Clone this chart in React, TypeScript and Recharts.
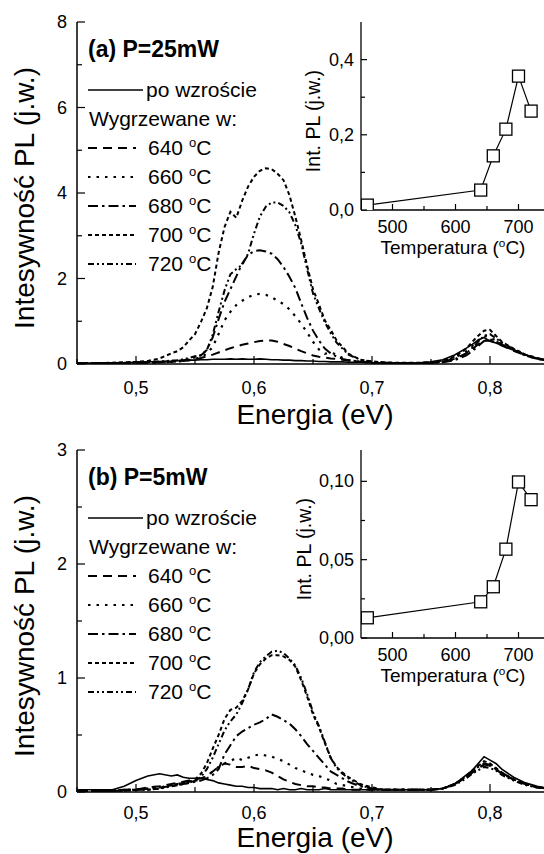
import React from 'react';
import { LineChart, Line, XAxis, YAxis } from 'recharts';

const FONT = '"Liberation Sans", Arial, Helvetica, sans-serif';

// photon energy grid (eV)
const energies = [
  0.45, 0.46, 0.47, 0.48, 0.49, 0.5, 0.51, 0.52, 0.53,
  0.535, 0.54, 0.545, 0.55, 0.555, 0.56, 0.565, 0.57, 0.575, 0.58, 0.585, 0.59, 0.595, 0.6, 0.605,
  0.61, 0.615, 0.62, 0.625, 0.63, 0.635, 0.64, 0.645, 0.65, 0.655, 0.66, 0.665, 0.67, 0.675, 0.68,
  0.69, 0.7, 0.71, 0.72, 0.73, 0.74, 0.75, 0.76, 0.77, 0.78,
  0.785, 0.79, 0.795, 0.8, 0.805,
  0.81, 0.82, 0.83, 0.84, 0.85,
];

// (a) P = 25 mW
const aAsGrown = [
  0.02, 0.02, 0.02, 0.03, 0.03, 0.04, 0.05, 0.06, 0.07,
  0.08, 0.08, 0.09, 0.09, 0.1, 0.1, 0.11, 0.11, 0.11, 0.12, 0.11, 0.12, 0.11, 0.11, 0.12,
  0.11, 0.1, 0.1, 0.09, 0.09, 0.08, 0.08, 0.07, 0.07, 0.06, 0.06, 0.05, 0.05, 0.05, 0.04,
  0.04, 0.03, 0.03, 0.02, 0.02, 0.03, 0.05, 0.1, 0.21, 0.37,
  0.46, 0.56, 0.62, 0.53, 0.49,
  0.44, 0.32, 0.21, 0.13, 0.08,
];
const a640 = [
  0.01, 0.01, 0.02, 0.02, 0.02, 0.03, 0.03, 0.04, 0.05,
  0.06, 0.07, 0.09, 0.11, 0.14, 0.18, 0.22, 0.27, 0.32, 0.37, 0.41, 0.45, 0.48, 0.51, 0.54,
  0.55, 0.55, 0.52, 0.47, 0.42, 0.36, 0.3, 0.25, 0.2, 0.17, 0.15, 0.13, 0.12, 0.1, 0.08,
  0.05, 0.03, 0.02, 0.02, 0.02, 0.02, 0.03, 0.06, 0.12, 0.25,
  0.35, 0.46, 0.54, 0.55, 0.5,
  0.43, 0.31, 0.2, 0.12, 0.07,
];
const a660 = [
  0.01, 0.01, 0.02, 0.02, 0.02, 0.03, 0.03, 0.04, 0.05,
  0.06, 0.07, 0.09, 0.12, 0.16, 0.24, 0.4, 0.7, 1.02, 1.22, 1.38, 1.48, 1.56, 1.62, 1.64,
  1.62, 1.56, 1.48, 1.4, 1.28, 1.12, 0.94, 0.74, 0.52, 0.34, 0.24, 0.27, 0.22, 0.14, 0.09,
  0.05, 0.03, 0.02, 0.02, 0.02, 0.02, 0.03, 0.06, 0.14, 0.3,
  0.42, 0.55, 0.66, 0.62, 0.55,
  0.46, 0.32, 0.2, 0.12, 0.07,
];
const a680 = [
  0.01, 0.01, 0.02, 0.02, 0.02, 0.03, 0.03, 0.04, 0.06,
  0.07, 0.09, 0.11, 0.15, 0.2, 0.33, 0.62, 1.05, 1.45, 1.75, 2.05, 2.35, 2.55, 2.64, 2.66,
  2.63, 2.58, 2.45, 2.27, 2.04, 1.78, 1.42, 1.08, 0.78, 0.55, 0.36, 0.25, 0.17, 0.12, 0.09,
  0.06, 0.04, 0.03, 0.02, 0.02, 0.02, 0.02, 0.04, 0.09, 0.2,
  0.3, 0.42, 0.54, 0.58, 0.53,
  0.46, 0.33, 0.21, 0.13, 0.08,
];
const a700 = [
  0.02, 0.02, 0.02, 0.03, 0.04, 0.05, 0.07, 0.13, 0.25,
  0.3, 0.39, 0.55, 0.7, 0.98, 1.3, 1.8, 2.6, 3.2, 3.56, 3.42, 3.82, 4.15, 4.38, 4.52,
  4.58, 4.56, 4.45, 4.3, 3.95, 3.45, 2.9, 2.3, 1.75, 1.4, 1.02, 0.8, 0.55, 0.4, 0.24,
  0.1, 0.06, 0.04, 0.03, 0.03, 0.03, 0.04, 0.08, 0.17, 0.36,
  0.52, 0.66, 0.78, 0.8, 0.66,
  0.52, 0.36, 0.22, 0.14, 0.08,
];
const a720 = [
  0.02, 0.02, 0.02, 0.02, 0.03, 0.04, 0.05, 0.06, 0.08,
  0.09, 0.11, 0.14, 0.18, 0.21, 0.32, 0.68, 1.22, 1.72, 2.1, 2.22, 2.32, 2.58, 3.05, 3.45,
  3.68, 3.78, 3.78, 3.7, 3.55, 3.25, 2.82, 2.22, 1.65, 1.3, 0.98, 0.72, 0.5, 0.36, 0.22,
  0.1, 0.05, 0.03, 0.02, 0.02, 0.02, 0.03, 0.05, 0.11, 0.25,
  0.38, 0.52, 0.66, 0.7, 0.6,
  0.5, 0.35, 0.22, 0.13, 0.08,
];

// (b) P = 5 mW
const bAsGrown = [
  0.02, 0.02, 0.02, 0.02, 0.05, 0.1, 0.14, 0.16, 0.14,
  0.15, 0.13, 0.12, 0.12, 0.12, 0.11, 0.1, 0.08, 0.07, 0.06, 0.05, 0.05, 0.04, 0.04, 0.03,
  0.03, 0.03, 0.02, 0.03, 0.02, 0.02, 0.03, 0.02, 0.02, 0.02, 0.03, 0.02, 0.02, 0.02, 0.02,
  0.02, 0.02, 0.02, 0.02, 0.02, 0.02, 0.02, 0.03, 0.07, 0.15,
  0.19, 0.25, 0.31, 0.28, 0.25,
  0.2, 0.13, 0.08, 0.05, 0.03,
];
const b640 = [
  0.01, 0.01, 0.01, 0.01, 0.02, 0.02, 0.04, 0.05, 0.07,
  0.08, 0.09, 0.1, 0.11, 0.12, 0.14, 0.18, 0.22, 0.25, 0.24, 0.22, 0.22, 0.23, 0.21, 0.2,
  0.19, 0.17, 0.14, 0.11, 0.09, 0.07, 0.06, 0.05, 0.05, 0.04, 0.04, 0.03, 0.03, 0.03, 0.02,
  0.02, 0.02, 0.02, 0.02, 0.02, 0.02, 0.02, 0.03, 0.07, 0.13,
  0.17, 0.21, 0.24, 0.23, 0.2,
  0.16, 0.11, 0.07, 0.04, 0.03,
];
const b660 = [
  0.01, 0.01, 0.01, 0.01, 0.02, 0.02, 0.03, 0.04, 0.06,
  0.07, 0.08, 0.09, 0.1, 0.11, 0.14, 0.18, 0.22, 0.25, 0.27, 0.3, 0.28, 0.3, 0.32, 0.33,
  0.32, 0.31, 0.29, 0.27, 0.24, 0.21, 0.19, 0.17, 0.15, 0.14, 0.12, 0.1, 0.07, 0.06, 0.05,
  0.03, 0.02, 0.02, 0.02, 0.02, 0.02, 0.02, 0.03, 0.07, 0.13,
  0.17, 0.21, 0.24, 0.23, 0.2,
  0.16, 0.11, 0.07, 0.04, 0.03,
];
const b680 = [
  0.01, 0.01, 0.01, 0.01, 0.02, 0.02, 0.03, 0.04, 0.05,
  0.06, 0.07, 0.08, 0.09, 0.1, 0.12, 0.15, 0.2, 0.33, 0.41, 0.49, 0.53, 0.56, 0.59, 0.61,
  0.64, 0.68, 0.66, 0.63, 0.6, 0.55, 0.49, 0.42, 0.36, 0.3, 0.24, 0.18, 0.15, 0.12, 0.09,
  0.05, 0.03, 0.02, 0.02, 0.02, 0.02, 0.02, 0.03, 0.07, 0.14,
  0.18, 0.22, 0.25, 0.24, 0.21,
  0.17, 0.11, 0.07, 0.04, 0.03,
];
const b700 = [
  0.01, 0.01, 0.01, 0.01, 0.01, 0.02, 0.02, 0.03, 0.06,
  0.07, 0.08, 0.09, 0.11, 0.16, 0.25, 0.38, 0.5, 0.64, 0.72, 0.74, 0.8, 0.9, 1.04, 1.12,
  1.17, 1.2, 1.2, 1.19, 1.16, 1.1, 0.98, 0.84, 0.68, 0.57, 0.43, 0.3, 0.22, 0.17, 0.13,
  0.07, 0.04, 0.02, 0.02, 0.02, 0.02, 0.02, 0.03, 0.07, 0.14,
  0.19, 0.23, 0.27, 0.25, 0.21,
  0.17, 0.11, 0.07, 0.04, 0.03,
];
const b720 = [
  0.01, 0.01, 0.01, 0.01, 0.01, 0.02, 0.02, 0.03, 0.05,
  0.06, 0.07, 0.08, 0.1, 0.13, 0.2, 0.3, 0.42, 0.54, 0.62, 0.68, 0.78, 0.9, 1.05, 1.14,
  1.19, 1.23, 1.24, 1.22, 1.17, 1.11, 1.0, 0.86, 0.7, 0.58, 0.44, 0.3, 0.21, 0.16, 0.12,
  0.06, 0.03, 0.02, 0.02, 0.02, 0.02, 0.02, 0.03, 0.06, 0.12,
  0.16, 0.19, 0.22, 0.21, 0.19,
  0.15, 0.1, 0.06, 0.04, 0.03,
];

// integrated PL vs annealing temperature (insets)
const temps = [460, 640, 660, 680, 700, 720];
const intA = [0.013, 0.053, 0.144, 0.215, 0.356, 0.263];
const intB = [0.0129, 0.0231, 0.0327, 0.0567, 0.0996, 0.0883];

const energyTicks = [0.45, 0.5, 0.55, 0.6, 0.65, 0.7, 0.75, 0.8, 0.85];
const energyMajors = [0.5, 0.6, 0.7, 0.8];
const tempTicks = [500, 550, 600, 650, 700];
const tempMajors = [500, 600, 700];

const annealLabels = ['640', '660', '680', '700', '720'];

const series = [
  { key: 's0', dash: undefined, width: 1.6 },
  { key: 's1', dash: '9 6', width: 2 },
  { key: 's2', dash: '2.5 6', width: 2.2 },
  { key: 's3', dash: '10 4 2.5 4', width: 2 },
  { key: 's4', dash: '4 3', width: 2 },
  { key: 's5', dash: '6 3 2 3 2 3', width: 2 },
];

const buildRows = (cols: number[][]) =>
  energies.map((e, i) => {
    const row: any = { e };
    cols.forEach((c, k) => (row['s' + k] = c[i]));
    return row;
  });

const rowsA = buildRows([aAsGrown, a640, a660, a680, a700, a720]);
const rowsB = buildRows([bAsGrown, b640, b660, b680, b700, b720]);

const fmt = (v: number, d: number) => v.toFixed(d).replace('.', ',');

type TickOpts = {
  side: 'left' | 'bottom' | 'top';
  majors: number[];
  digits: number;
  major: number;
  minor: number;
  gap: number;
  size: number;
};

// ticks drawn inward, labels only on major ticks
const makeTick = (o: TickOpts) => (p: any) => {
  const { x, y, payload } = p;
  const v = payload.value;
  const isMajor = o.majors.some((m) => Math.abs(m - v) < 1e-9);
  const len = isMajor ? o.major : o.minor;
  if (o.side === 'left') {
    return (
      <g>
        <line x1={x} x2={x + len} y1={y} y2={y} stroke="#000" strokeWidth={1.2} />
        {isMajor && (
          <text x={x - o.gap} y={y} textAnchor="end" dominantBaseline="central" fontSize={o.size} fontFamily={FONT} fill="#000">
            {fmt(v, o.digits)}
          </text>
        )}
      </g>
    );
  }
  if (o.side === 'top') {
    return <line x1={x} x2={x} y1={y} y2={y + len} stroke="#000" strokeWidth={1.2} />;
  }
  return (
    <g>
      <line x1={x} x2={x} y1={y} y2={y - len} stroke="#000" strokeWidth={1.2} />
      {isMajor && (
        <text x={x} y={y + o.gap} textAnchor="middle" fontSize={o.size} fontFamily={FONT} fill="#000">
          {fmt(v, o.digits)}
        </text>
      )}
    </g>
  );
};

const axisLine = { stroke: '#000', strokeWidth: 1.5 };

const Spectrum = ({ rows, yMax, yTicks, yMajors, labelGap }: any) => (
  <LineChart width={560} height={428} data={rows} margin={{ top: 22, right: 11, left: 0, bottom: 0 }}>
    <XAxis
      type="number"
      dataKey="e"
      domain={[0.45, 0.85]}
      allowDataOverflow
      ticks={energyTicks}
      interval={0}
      height={64}
      tickSize={0}
      tickMargin={0}
      axisLine={axisLine}
      tickLine={false}
      tick={makeTick({ side: 'bottom', majors: energyMajors, digits: 1, major: 8, minor: 5, gap: labelGap, size: 18 })}
    />
    <XAxis
      xAxisId="top"
      orientation="top"
      type="number"
      dataKey="e"
      domain={[0.45, 0.85]}
      allowDataOverflow
      ticks={energyTicks}
      interval={0}
      height={0}
      tickSize={0}
      tickMargin={0}
      axisLine={axisLine}
      tickLine={false}
      tick={makeTick({ side: 'top', majors: energyMajors, digits: 1, major: 8, minor: 5, gap: 0, size: 18 })}
    />
    <YAxis
      type="number"
      domain={[0, yMax]}
      allowDataOverflow
      ticks={yTicks}
      interval={0}
      width={77}
      tickSize={0}
      tickMargin={0}
      axisLine={axisLine}
      tickLine={false}
      tick={makeTick({ side: 'left', majors: yMajors, digits: 0, major: 8, minor: 5, gap: 10, size: 18 })}
    />
    {series.map((s) => (
      <Line
        key={s.key}
        type="linear"
        dataKey={s.key}
        stroke="#000"
        strokeWidth={s.width}
        strokeDasharray={s.dash}
        dot={false}
        isAnimationActive={false}
      />
    ))}
  </LineChart>
);

const SquareDot = (p: any) => (
  <rect key={`sq-${p.index}`} x={p.cx - 6} y={p.cy - 6} width={12} height={12} fill="#fff" stroke="#000" strokeWidth={1.3} />
);

const Inset = ({ values, yMax, yTicks, yMajors, digits }: any) => (
  <LineChart
    width={280}
    height={270}
    data={temps.map((t, i) => ({ t, v: values[i] }))}
    margin={{ top: 22, right: 10, left: 0, bottom: 0 }}
  >
    <XAxis
      type="number"
      dataKey="t"
      domain={[450, 750]}
      allowDataOverflow
      ticks={tempTicks}
      interval={0}
      height={60}
      tickSize={0}
      tickMargin={0}
      axisLine={{ stroke: '#000', strokeWidth: 1.3 }}
      tickLine={false}
      tick={makeTick({ side: 'bottom', majors: tempMajors, digits: 0, major: 6, minor: 4, gap: 23, size: 18 })}
    />
    <YAxis
      type="number"
      domain={[0, yMax]}
      allowDataOverflow
      ticks={yTicks}
      interval={0}
      width={81}
      tickSize={0}
      tickMargin={0}
      axisLine={{ stroke: '#000', strokeWidth: 1.3 }}
      tickLine={false}
      tick={makeTick({ side: 'left', majors: yMajors, digits, major: 6, minor: 4, gap: 7, size: 18 })}
    />
    <Line type="linear" dataKey="v" stroke="#000" strokeWidth={1.2} dot={SquareDot} isAnimationActive={false} />
  </LineChart>
);

const Deg = ({ size }: { size: number }) => (
  <>
    <tspan dy={-size * 0.38} fontSize={size * 0.62}>o</tspan>
    <tspan dy={size * 0.38}>C</tspan>
  </>
);

const rowY = [90, 119, 148, 177, 206, 235, 264];

const PanelText = ({ dy, title, xTitleY, yInsetTitleX }: any) => (
  <g fontFamily={FONT} fill="#000">
    <text x={88} y={dy + 57} fontSize={23} fontWeight="bold">{title}</text>
    {/* legend */}
    <line x1={88} x2={143} y1={dy + rowY[0]} y2={dy + rowY[0]} stroke="#000" strokeWidth={1.6} />
    <text x={146} y={dy + rowY[0] + 7} fontSize={21}>po wzroście</text>
    <text x={89} y={dy + rowY[1] + 7} fontSize={21}>Wygrzewane w:</text>
    {annealLabels.map((lab, i) => {
      const s = series[i + 1];
      const y = dy + rowY[i + 2];
      return (
        <g key={lab}>
          <line x1={88} x2={136} y1={y} y2={y} stroke="#000" strokeWidth={s.width} strokeDasharray={s.dash} />
          <text x={148} y={y + 7} fontSize={21}>
            {lab + ' '}
            <Deg size={21} />
          </text>
        </g>
      );
    })}
    {/* axis titles */}
    <text
      x={34}
      y={dy + 198}
      fontSize={28}
      textAnchor="middle"
      transform={`rotate(-90, 34, ${dy + 198})`}
    >
      Intesywność PL (j.w.)
    </text>
    <text x={315} y={dy + xTitleY} fontSize={28} textAnchor="middle">Energia (eV)</text>
    <text
      x={yInsetTitleX}
      y={dy + 121}
      fontSize={19.5}
      textAnchor="middle"
      transform={`rotate(-90, ${yInsetTitleX}, ${dy + 121})`}
    >
      Int. PL (j.w.)
    </text>
    <text x={453} y={dy + 254} fontSize={19} textAnchor="middle">
      {'Temperatura ('}
      <Deg size={19} />
      {')'}
    </text>
  </g>
);

export default function App() {
  return (
    <div
      style={{
        position: 'absolute',
        left: 0,
        top: 0,
        width: 544,
        height: 854,
        overflow: 'hidden',
        background: '#fff',
      }}
    >
      <div style={{ position: 'absolute', left: 0, top: 0 }}>
        <Spectrum rows={rowsA} yMax={8} yTicks={[0, 1, 2, 3, 4, 5, 6, 7, 8]} yMajors={[0, 2, 4, 6, 8]} labelGap={30} />
      </div>
      <div style={{ position: 'absolute', left: 280, top: 0 }}>
        <Inset values={intA} yMax={0.5} yTicks={[0, 0.1, 0.2, 0.3, 0.4]} yMajors={[0, 0.2, 0.4]} digits={1} />
      </div>
      <div style={{ position: 'absolute', left: 0, top: 428 }}>
        <Spectrum rows={rowsB} yMax={3} yTicks={[0, 0.5, 1, 1.5, 2, 2.5, 3]} yMajors={[0, 1, 2, 3]} labelGap={27} />
      </div>
      <div style={{ position: 'absolute', left: 280, top: 428 }}>
        <Inset values={intB} yMax={0.12} yTicks={[0, 0.025, 0.05, 0.075, 0.1]} yMajors={[0, 0.05, 0.1]} digits={2} />
      </div>
      <svg
        width={544}
        height={854}
        style={{ position: 'absolute', left: 0, top: 0, pointerEvents: 'none' }}
      >
        <PanelText dy={0} title="(a) P=25mW" xTitleY={424} yInsetTitleX={320} />
        <PanelText dy={428} title="(b) P=5mW" xTitleY={419} yInsetTitleX={311} />
      </svg>
    </div>
  );
}
